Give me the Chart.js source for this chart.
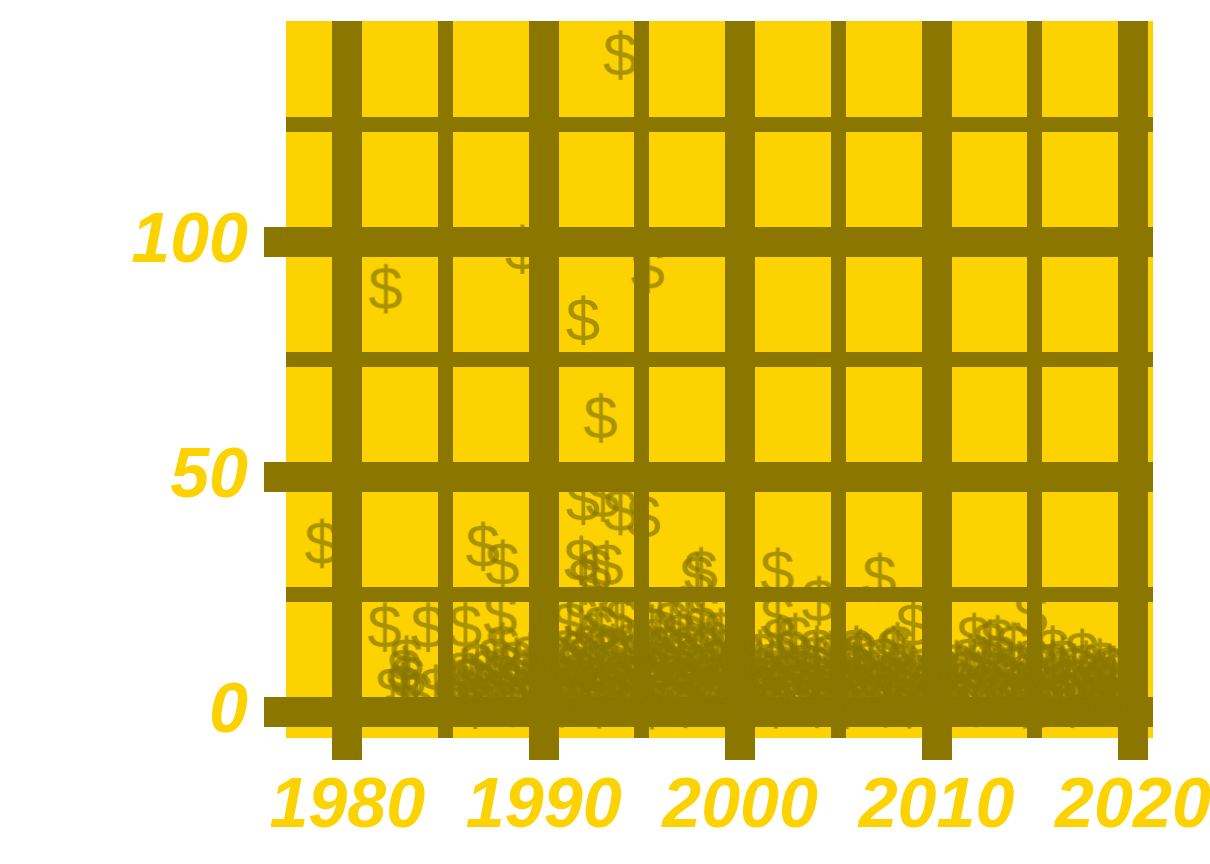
<!DOCTYPE html>
<html>
<head>
<meta charset="utf-8">
<script src="https://cdn.jsdelivr.net/npm/chart.js@4.4.1/dist/chart.umd.min.js"></script>
<style>
html, body { margin: 0; padding: 0; background: #fff; }
#wrap { width: 1210px; height: 864px; }
</style>
</head>
<body>
<div id="wrap"><canvas id="chart"></canvas></div>
<script>
// tick positions, majors get labels and the wide lines
const xTicks = [1980, 1985, 1990, 1995, 2000, 2005, 2010, 2015, 2020];
const xMajor = [1980, 1990, 2000, 2010, 2020];
const yTicks = [0, 25, 50, 75, 100, 125];
const yMajor = [0, 50, 100];

// [year, amount]
const pts1970s = [[1978.7, 36]];
const pts1980s = [
    [1981.95, 90.2], [1981.9, 18.2], [1982.3, 5], [1982.8, 5.5], [1982.9, 9], [1983.0, 11.2],
    [1983.1, 7.6], [1983.5, 4], [1984.1, 18.2], [1984.5, 5],
    [1985.2, 3.1], [1985.4, 6.2], [1985.7, 2.4], [1985.9, 8.5], [1986.0, 18.3], [1986.0, 7.0],
    [1986.1, 4.7], [1986.3, 7.3], [1986.5, 1.8], [1986.6, 10.2], [1986.8, 5.5], [1986.9, 35.4],
    [1987.0, 3.4], [1987.1, 8.9], [1987.3, 6.1], [1987.5, 11.4], [1987.6, 2.7], [1987.8, 7.8],
    [1987.8, 20.8], [1987.9, 31.6], [1987.9, 14.0], [1988.0, 4.3], [1988.1, 9.6], [1988.3, 5.9],
    [1988.4, 2.2], [1988.6, 10.8], [1988.7, 6.7], [1988.9, 3.8], [1988.9, 98.6], [1989.0, 8.2],
    [1989.2, 5.1], [1989.3, 11.9], [1989.5, 2.9], [1989.6, 7.4], [1989.8, 9.8], [1989.9, 4.6]
];
const pts1990s = [
    [1990.1, 6.3], [1990.2, 3.2], [1990.4, 9.4], [1990.5, 12.1], [1990.6, 5.0], [1990.8, 7.7],
    [1990.9, 2.1], [1991.0, 10.6],
    [1991.1, 4.4], [1991.2, 13.2], [1991.3, 7.1], [1991.3, 18.9], [1991.4, 2.6], [1991.5, 9.9],
    [1991.6, 5.7], [1991.7, 12.8], [1991.8, 3.5], [1991.9, 8.4], [1991.9, 20.3], [1991.9, 32.4],
    [1992.0, 45.2], [1992.0, 83.5], [1992.0, 6.0], [1992.1, 28.2], [1992.1, 11.5], [1992.2, 3.0],
    [1992.3, 8.8], [1992.4, 14.2], [1992.5, 5.3], [1992.6, 30.3], [1992.6, 10.1], [1992.7, 17.0],
    [1992.8, 1.9], [1992.9, 62.7], [1992.9, 18.2], [1992.9, 7.2],
    [1993.0, 45.9], [1993.0, 12.6], [1993.1, 4.1], [1993.2, 31.4], [1993.3, 9.0], [1993.4, 6.5],
    [1993.5, 13.7], [1993.6, 2.8], [1993.7, 20.5], [1993.7, 10.9], [1993.8, 5.6], [1993.9, 43.0],
    [1993.9, 139.9], [1993.9, 8.1],
    [1994.0, 19.7], [1994.0, 3.7], [1994.1, 11.8], [1994.2, 6.9], [1994.4, 14.5], [1994.5, 2.3],
    [1994.6, 9.2], [1994.7, 5.0], [1994.8, 12.3], [1994.9, 7.6],
    [1995.0, 4.2], [1995.1, 41.6], [1995.1, 10.4], [1995.3, 94.5], [1995.3, 13.1], [1995.4, 6.2],
    [1995.5, 17.8], [1995.5, 1.7], [1995.6, 8.7], [1995.7, 15.6], [1995.8, 5.2], [1995.9, 21.0],
    [1995.9, 11.0],
    [1996.0, 3.3], [1996.1, 9.6], [1996.2, 13.9], [1996.3, 6.7], [1996.5, 19.2], [1996.5, 2.5],
    [1996.6, 11.2], [1996.7, 7.9], [1996.8, 4.8], [1996.9, 16.5], [1996.9, 12.7],
    [1997.0, 5.9], [1997.1, 10.0], [1997.2, 2.0], [1997.3, 20.2], [1997.4, 14.0], [1997.5, 7.3],
    [1997.6, 4.0], [1997.7, 11.6], [1997.8, 28.8], [1997.8, 8.5], [1997.9, 3.1],
    [1998.0, 30.0], [1998.0, 18.0], [1998.0, 9.3], [1998.1, 21.0], [1998.2, 5.4], [1998.3, 12.9],
    [1998.4, 2.6], [1998.5, 7.0], [1998.6, 15.0], [1998.7, 4.5], [1998.8, 10.7], [1998.9, 6.3],
    [1999.0, 17.0], [1999.0, 2.9], [1999.1, 11.3], [1999.2, 8.0], [1999.3, 5.1], [1999.4, 13.4],
    [1999.6, 3.6], [1999.7, 9.8], [1999.8, 6.6], [1999.9, 12.0]
];
const pts2000s = [
    [2000.0, 4.9], [2000.1, 8.3], [2000.3, 2.2], [2000.4, 11.9], [2000.5, 6.1], [2000.7, 3.9],
    [2000.8, 9.5], [2000.9, 5.6],
    [2001.0, 12.4], [2001.2, 2.7], [2001.3, 7.4], [2001.4, 4.6], [2001.6, 10.3], [2001.7, 6.8],
    [2001.8, 1.9], [2001.9, 8.9], [2001.9, 29.9], [2001.9, 20.3],
    [2002.0, 15.6], [2002.0, 5.2], [2002.1, 11.0], [2002.3, 3.4], [2002.4, 7.9], [2002.6, 13.0],
    [2002.7, 4.1], [2002.8, 16.0], [2002.9, 9.1],
    [2003.0, 2.5], [2003.1, 6.4], [2003.3, 10.1], [2003.4, 3.8], [2003.5, 8.2], [2003.7, 5.3],
    [2003.8, 11.7], [2003.9, 13.3], [2003.9, 2.0],
    [2004.0, 23.8], [2004.0, 7.1], [2004.2, 4.4], [2004.3, 9.7], [2004.5, 2.9], [2004.6, 12.2],
    [2004.7, 6.0], [2004.9, 3.5],
    [2005.0, 8.6], [2005.1, 5.0], [2005.3, 10.9], [2005.4, 1.8], [2005.5, 7.5], [2005.7, 3.2],
    [2005.8, 9.9], [2005.9, 13.3], [2005.9, 5.8],
    [2006.0, 12.0], [2006.1, 12.6], [2006.2, 4.2], [2006.3, 7.8], [2006.4, 2.4], [2006.6, 10.6],
    [2006.7, 6.3], [2006.9, 3.7],
    [2007.0, 9.0], [2007.1, 28.8], [2007.1, 5.5], [2007.3, 11.4], [2007.4, 2.1], [2007.6, 7.0],
    [2007.7, 4.0], [2007.8, 13.3], [2007.9, 8.8],
    [2008.0, 14.0], [2008.0, 3.0], [2008.1, 6.6], [2008.3, 10.4], [2008.4, 4.7], [2008.6, 1.9],
    [2008.7, 8.1], [2008.8, 18.6], [2008.9, 5.4],
    [2009.0, 2.6], [2009.1, 7.2], [2009.3, 4.1], [2009.4, 9.3], [2009.6, 6.0], [2009.7, 2.3],
    [2009.8, 8.4], [2009.9, 4.9]
];
const pts2010s = [
    [2010.0, 6.8], [2010.2, 3.1], [2010.3, 9.0], [2010.5, 5.0], [2010.6, 1.8], [2010.8, 7.6],
    [2010.9, 4.3],
    [2011.0, 10.2], [2011.2, 2.8], [2011.3, 6.2], [2011.5, 8.7], [2011.6, 3.9], [2011.7, 11.4],
    [2011.9, 16.0], [2011.9, 5.6],
    [2012.0, 2.2], [2012.1, 7.9], [2012.3, 4.6], [2012.4, 10.8], [2012.6, 6.1], [2012.7, 14.6],
    [2012.8, 3.0], [2012.9, 8.5],
    [2013.0, 5.2], [2013.1, 15.5], [2013.2, 11.9], [2013.3, 2.5], [2013.5, 7.3], [2013.6, 4.2],
    [2013.8, 9.6], [2013.9, 14.0], [2013.9, 6.4],
    [2014.0, 3.3], [2014.2, 10.0], [2014.3, 5.7], [2014.5, 1.9], [2014.6, 8.0], [2014.7, 4.8],
    [2014.8, 21.0], [2014.9, 11.2],
    [2015.0, 6.5], [2015.2, 3.6], [2015.3, 9.2], [2015.4, 2.1], [2015.6, 7.4], [2015.7, 4.5],
    [2015.9, 13.3], [2015.9, 10.3],
    [2016.0, 5.0], [2016.1, 2.7], [2016.3, 8.6], [2016.4, 11.0], [2016.6, 3.9], [2016.7, 6.9],
    [2016.9, 2.0],
    [2017.0, 9.4], [2017.2, 4.4], [2017.3, 7.0], [2017.4, 12.6], [2017.5, 2.4], [2017.6, 10.1],
    [2017.8, 5.5], [2017.9, 3.2],
    [2018.0, 8.1], [2018.1, 5.9], [2018.3, 10.6], [2018.3, 2.6], [2018.5, 7.6], [2018.6, 4.0],
    [2018.8, 9.5], [2018.9, 3.0],
    [2019.0, 9.0], [2019.0, 6.2], [2019.2, 2.3], [2019.3, 8.3], [2019.5, 4.6], [2019.6, 1.7]
];

const panelColor = '#FCD300';
const gridColor = '#8B7700';
const labelColor = '#FCD300';
const labelFont = { family: '"Liberation Sans", Arial, sans-serif', size: 70, weight: 'bold', style: 'italic' };

// the "$" marker as a little canvas, ink centred on the point
function dollarMarker() {
    const c = document.createElement('canvas');
    c.width = 50;
    c.height = 70;
    const g = c.getContext('2d');
    g.font = '62px "Liberation Sans", Arial, sans-serif';
    g.fillStyle = 'rgba(139,119,0,0.72)';
    g.textAlign = 'center';
    g.textBaseline = 'alphabetic';
    const m = g.measureText('$');
    g.fillText('$', c.width / 2, c.height / 2 + (m.actualBoundingBoxAscent - m.actualBoundingBoxDescent) / 2);
    return c;
}

const panelFill = {
    id: 'panelFill',
    beforeDraw(chart) {
        const a = chart.chartArea;
        const g = chart.ctx;
        g.save();
        g.fillStyle = panelColor;
        g.fillRect(a.left, a.top, a.right - a.left, a.bottom - a.top);
        g.restore();
    }
};

function isMajor(list, c) {
    return c.tick && list.includes(c.tick.value);
}

const allPoints = [].concat(pts1970s, pts1980s, pts1990s, pts2000s, pts2010s)
    .map(p => ({ x: p[0], y: p[1] }));

new Chart(document.getElementById('chart'), {
    type: 'scatter',
    data: {
        datasets: [{
            data: allPoints,
            pointStyle: dollarMarker(),
            pointRadius: 12
        }]
    },
    options: {
        responsive: true,
        maintainAspectRatio: false,
        animation: false,
        layout: { padding: { top: 21, right: 57, left: 0, bottom: 0 } },
        plugins: { legend: { display: false }, tooltip: { enabled: false } },
        scales: {
            x: {
                type: 'linear',
                min: 1976.88,
                max: 2021.02,
                z: 1,
                afterBuildTicks: s => { s.ticks = xTicks.map(v => ({ value: v })); },
                afterFit: s => { s.height = 126; s.paddingLeft = 0; s.paddingRight = 0; },
                border: { display: false },
                grid: {
                    color: gridColor,
                    lineWidth: c => isMajor(xMajor, c) ? 30 : 15,
                    tickColor: c => isMajor(xMajor, c) ? gridColor : 'rgba(0,0,0,0)',
                    tickWidth: c => isMajor(xMajor, c) ? 30 : 15,
                    tickLength: 22
                },
                ticks: {
                    autoSkip: false,
                    maxRotation: 0,
                    padding: 6,
                    color: labelColor,
                    font: labelFont,
                    callback: v => xMajor.includes(v) ? String(v) : ''
                }
            },
            y: {
                type: 'linear',
                min: -5.43,
                max: 147.1,
                z: 1,
                afterBuildTicks: s => { s.ticks = yTicks.map(v => ({ value: v })); },
                afterFit: s => { s.width = 286; s.paddingTop = 0; s.paddingBottom = 0; },
                border: { display: false },
                grid: {
                    color: gridColor,
                    lineWidth: c => isMajor(yMajor, c) ? 30 : 15,
                    tickColor: c => isMajor(yMajor, c) ? gridColor : 'rgba(0,0,0,0)',
                    tickWidth: c => isMajor(yMajor, c) ? 30 : 15,
                    tickLength: 22
                },
                ticks: {
                    autoSkip: false,
                    padding: 16,
                    color: labelColor,
                    font: labelFont,
                    callback: v => yMajor.includes(v) ? String(v) : ''
                }
            }
        }
    },
    plugins: [panelFill]
});
</script>
</body>
</html>
